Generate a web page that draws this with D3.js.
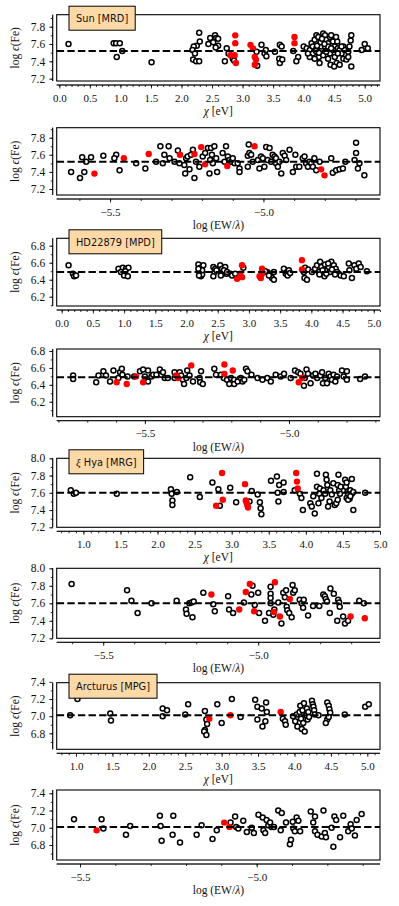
<!DOCTYPE html>
<html>
<head>
<meta charset="utf-8">
<script src="https://cdn.jsdelivr.net/npm/d3@7"></script>
<style>
  body { margin: 0; background: #fff; }
  svg { display: block; }
  text { font-family: "Liberation Serif", "DejaVu Serif", serif; fill: #111; }
  .lab text { font-family: "DejaVu Sans", sans-serif; }
</style>
</head>
<body>
<div id="chart"></div>
<script>
// ===================== DATA =====================
// Sun [MRD]
const sunMean = 7.52;
const sunChi = [[0.15,7.60],[0.89,7.61],[0.93,7.61],[0.99,7.61],[0.94,7.45],[1.03,7.52],[1.51,7.39],
  [2.29,7.73],[2.25,7.58],[2.20,7.57],[2.18,7.53],[2.19,7.42],[2.24,7.40],[2.29,7.40],[2.22,7.49],[2.30,7.63],
  [2.44,7.60],[2.47,7.67],[2.55,7.70],[2.57,7.67],[2.60,7.58],[2.52,7.62],[2.60,7.66],[2.56,7.56],
  [2.74,7.55],[2.77,7.49],[2.71,7.40],[2.84,7.43],[2.86,7.41],
  [3.31,7.59],[3.23,7.51],[3.36,7.49],[3.39,7.46],[3.38,7.53],[3.24,7.35],
  [3.53,7.51],[3.61,7.59],[3.64,7.57],[3.60,7.43],[3.61,7.38],[3.65,7.42],
  [3.83,7.52],[3.91,7.45],[3.88,7.40],
  [4.00,7.57],[4.05,7.55],[4.10,7.53],[4.13,7.61],[4.15,7.49],[4.18,7.65],[4.21,7.70],[4.24,7.68],[4.26,7.59],
  [4.29,7.53],[4.25,7.45],[4.32,7.72],[4.35,7.70],[4.37,7.65],[4.40,7.61],[4.43,7.68],[4.45,7.70],[4.48,7.63],
  [4.51,7.57],[4.43,7.49],[4.40,7.43],[4.51,7.45],[4.54,7.38],[4.59,7.36],[4.56,7.55],[4.59,7.53],[4.62,7.49],
  [4.65,7.57],[4.67,7.53],[4.65,7.43],[4.70,7.42],[4.26,7.38],[4.18,7.43],[4.10,7.45],[4.07,7.49],[4.32,7.47],
  [4.37,7.51],[4.48,7.53],[4.55,7.63],[4.15,7.57],[4.21,7.55],[4.29,7.57],[4.35,7.57],[4.40,7.57],[4.45,7.55],
  [4.53,7.68],[4.56,7.49],[4.62,7.57],[4.20,7.52],[4.22,7.58],[4.25,7.50],[4.28,7.62],[4.30,7.66],[4.34,7.60],
  [4.44,7.36],[4.50,7.34],
  [4.73,7.45],[4.75,7.57],[4.77,7.64],[4.78,7.70],[4.78,7.34],[4.73,7.51],
  [4.95,7.53],[5.00,7.60],[5.05,7.55]];
const sunChiRed = [[2.80,7.47],[2.88,7.70],[2.88,7.61],[2.87,7.47],[2.89,7.38],
  [3.13,7.59],[3.17,7.55],[3.20,7.45],[3.22,7.42],[3.20,7.36],[3.85,7.68],[3.85,7.61]];
const sunEw = [[-5.627,7.40],[-5.598,7.33],[-5.584,7.40],[-5.591,7.57],[-5.578,7.52],[-5.562,7.57],[-5.522,7.59],
  [-5.480,7.60],[-5.486,7.56],[-5.469,7.42],[-5.415,7.50],[-5.385,7.44],[-5.336,7.70],[-5.309,7.70],[-5.323,7.60],
  [-5.306,7.56],[-5.350,7.52],[-5.328,7.50],[-5.290,7.52],[-5.279,7.65],[-5.274,7.50],[-5.258,7.48],[-5.255,7.38],
  [-5.252,7.56],[-5.247,7.58],[-5.236,7.60],[-5.230,7.66],[-5.241,7.43],[-5.225,7.33],[-5.220,7.52],[-5.209,7.46],
  [-5.198,7.58],[-5.190,7.62],[-5.181,7.68],[-5.171,7.68],[-5.160,7.70],[-5.168,7.60],[-5.174,7.54],[-5.165,7.50],
  [-5.154,7.56],[-5.176,7.38],[-5.151,7.40],[-5.133,7.62],[-5.122,7.70],[-5.127,7.52],[-5.116,7.58],[-5.111,7.54],
  [-5.105,7.52],[-5.100,7.56],[-5.094,7.50],[-5.084,7.50],[-5.078,7.44],[-5.078,7.40],[-5.051,7.59],[-5.046,7.62],
  [-5.040,7.60],[-5.048,7.72],[-5.035,7.52],[-5.051,7.46],[-5.018,7.54],[-5.013,7.44],[-5.008,7.58],[-5.002,7.56],
  [-4.997,7.46],[-4.991,7.69],[-4.980,7.68],[-4.986,7.54],[-4.975,7.52],[-4.970,7.60],[-4.964,7.58],[-4.959,7.56],
  [-4.959,7.50],[-4.953,7.46],[-4.948,7.52],[-4.942,7.38],[-4.937,7.62],[-4.931,7.59],[-4.926,7.54],[-4.915,7.66],
  [-4.904,7.40],[-4.896,7.60],[-4.893,7.46],[-4.883,7.46],[-4.872,7.56],[-4.866,7.58],[-4.861,7.50],[-4.855,7.46],
  [-4.850,7.52],[-4.844,7.50],[-4.839,7.46],[-4.834,7.56],[-4.828,7.42],[-4.817,7.52],[-4.779,7.56],[-4.774,7.39],
  [-4.763,7.42],[-4.752,7.43],[-4.741,7.44],[-4.733,7.52],[-4.703,7.54],[-4.698,7.74],[-4.698,7.62],[-4.692,7.44],
  [-4.687,7.50],[-4.671,7.36]];
const sunEwRed = [[-5.551,7.38],[-5.455,7.56],[-5.374,7.61],[-5.272,7.60],[-5.225,7.61],[-5.203,7.69],
  [-5.190,7.49],[-5.118,7.47],[-5.029,7.70],[-4.812,7.43],[-4.801,7.36]];

// HD22879 [MPD]
const hdMean = 6.49;
const hdChi = [[0.11,6.57],[0.18,6.47],[0.20,6.44],[0.23,6.45],
  [0.91,6.53],[0.98,6.54],[1.03,6.53],[1.07,6.54],[0.95,6.49],[1.00,6.45],[1.06,6.44],[1.02,6.50],
  [2.19,6.58],[2.22,6.54],[2.21,6.49],[2.23,6.44],[2.25,6.46],[2.27,6.57],[2.25,6.51],[2.19,6.53],[2.20,6.45],
  [2.43,6.55],[2.45,6.49],[2.43,6.44],[2.46,6.53],[2.48,6.51],
  [2.54,6.57],[2.57,6.53],[2.58,6.47],[2.55,6.45],[2.62,6.55],[2.64,6.47],[2.60,6.51],
  [2.70,6.47],[2.73,6.45],[2.78,6.47],[2.65,6.49],[2.91,6.54],
  [3.29,6.49],[3.34,6.47],[3.37,6.42],[3.40,6.40],[3.32,6.45],[3.40,6.49],[3.26,6.50],
  [3.56,6.53],[3.59,6.47],[3.61,6.49],[3.62,6.45],[3.64,6.51],[3.66,6.48],
  [3.90,6.54],[3.89,6.42],[3.93,6.40],[3.88,6.49],[3.95,6.52],
  [4.01,6.49],[4.06,6.53],[4.09,6.57],[4.12,6.49],[4.14,6.61],[4.16,6.55],[4.19,6.47],[4.21,6.44],[4.22,6.58],
  [4.25,6.51],[4.28,6.55],[4.30,6.49],[4.32,6.61],[4.36,6.57],[4.39,6.53],[4.41,6.49],[4.44,6.47],[4.47,6.45],
  [4.52,6.44],[4.60,6.59],[4.61,6.51],[4.65,6.42],[4.69,6.57],[4.72,6.53],[4.76,6.59],[4.79,6.55],
  [4.18,6.51],[4.24,6.47],[4.33,6.52],[4.38,6.46],[4.13,6.46],[4.27,6.59],[4.89,6.50]];
const hdChiRed = [[2.81,6.41],[2.86,6.47],[2.89,6.43],[2.89,6.57],[3.17,6.44],[3.21,6.53],[3.21,6.47],
  [3.19,6.42],[3.85,6.63],[3.85,6.52]];
const hdEw = [[-5.749,6.51],[-5.749,6.47],[-5.669,6.43],[-5.661,6.51],[-5.644,6.56],[-5.635,6.51],[-5.621,6.44],
  [-5.609,6.57],[-5.592,6.48],[-5.586,6.55],[-5.580,6.59],[-5.578,6.52],[-5.560,6.50],[-5.537,6.50],[-5.517,6.56],
  [-5.506,6.58],[-5.500,6.50],[-5.489,6.57],[-5.489,6.44],[-5.477,6.50],[-5.471,6.52],[-5.460,6.52],[-5.448,6.58],
  [-5.443,6.52],[-5.437,6.55],[-5.431,6.48],[-5.420,6.48],[-5.397,6.55],[-5.397,6.48],[-5.379,6.55],[-5.374,6.51],
  [-5.368,6.46],[-5.364,6.41],[-5.356,6.48],[-5.353,6.57],[-5.345,6.51],[-5.333,6.44],[-5.310,6.48],[-5.305,6.56],
  [-5.308,6.43],[-5.299,6.41],[-5.259,6.59],[-5.253,6.52],[-5.236,6.52],[-5.226,6.48],[-5.215,6.46],[-5.207,6.41],
  [-5.201,6.48],[-5.190,6.46],[-5.190,6.41],[-5.178,6.44],[-5.167,6.48],[-5.161,6.44],[-5.155,6.46],[-5.149,6.59],
  [-5.144,6.56],[-5.130,6.52],[-5.109,6.48],[-5.092,6.46],[-5.075,6.48],[-5.063,6.44],[-5.046,6.52],[-5.029,6.50],
  [-5.017,6.53],[-4.994,6.48],[-4.979,6.57],[-4.968,6.55],[-4.960,6.53],[-4.948,6.39],[-4.945,6.48],[-4.939,6.58],
  [-4.934,6.53],[-4.925,6.42],[-4.916,6.51],[-4.908,6.53],[-4.902,6.48],[-4.891,6.51],[-4.885,6.55],[-4.882,6.42],
  [-4.874,6.48],[-4.868,6.42],[-4.862,6.53],[-4.856,6.50],[-4.851,6.46],[-4.845,6.52],[-4.839,6.44],[-4.833,6.50],
  [-4.816,6.57],[-4.810,6.50],[-4.799,6.56],[-4.799,6.46],[-4.753,6.47],[-4.736,6.50]];
const hdEwRed = [[-5.598,6.43],[-5.563,6.41],[-5.531,6.50],[-5.506,6.43],[-5.391,6.51],[-5.385,6.48],
  [-5.339,6.63],[-5.224,6.64],[-5.224,6.53],[-5.195,6.57],[-4.966,6.43],[-4.954,6.48]];

// xi Hya [MRG]
const xiMean = 7.60;
const xiChi = [[0.83,7.63],[0.87,7.59],[0.90,7.60],[1.45,7.59],
  [2.18,7.64],[2.19,7.59],[2.20,7.51],[2.20,7.46],[2.26,7.61],[2.44,7.78],[2.57,7.55],
  [2.74,7.72],[2.82,7.64],[2.84,7.45],[2.98,7.66],[3.06,7.49],
  [3.27,7.62],[3.24,7.50],[3.35,7.58],[3.38,7.49],[3.39,7.42],[3.40,7.35],
  [3.53,7.74],[3.61,7.79],[3.64,7.69],[3.62,7.60],[3.63,7.50],[3.70,7.72],[3.70,7.61],
  [3.85,7.63],[3.92,7.59],[3.94,7.54],[3.96,7.40],
  [4.06,7.48],[4.08,7.44],[4.10,7.56],[4.12,7.36],[4.15,7.82],[4.15,7.67],[4.17,7.48],[4.18,7.59],[4.19,7.65],
  [4.21,7.54],[4.24,7.63],[4.26,7.59],[4.27,7.81],[4.28,7.75],[4.29,7.69],[4.30,7.44],[4.32,7.50],[4.33,7.63],
  [4.35,7.58],[4.37,7.71],[4.39,7.46],[4.41,7.48],[4.43,7.52],[4.43,7.69],[4.44,7.81],[4.45,7.63],[4.46,7.59],
  [4.47,7.67],[4.53,7.75],[4.54,7.67],[4.55,7.54],[4.56,7.61],[4.57,7.59],[4.59,7.53],[4.60,7.63],[4.62,7.59],
  [4.64,7.61],[4.62,7.76],[4.64,7.40],[4.57,7.52],[4.55,7.72],[4.60,7.56],[4.80,7.60]];
const xiChiRed = [[2.79,7.45],[2.87,7.83],[2.88,7.52],[3.18,7.70],[3.19,7.51],[3.20,7.49],[3.21,7.46],
  [3.22,7.43],[3.87,7.83],[3.88,7.73],[3.89,7.65]];
const xiEw = [[-5.602,7.82],[-5.423,7.75],[-5.409,7.63],[-5.389,7.49],[-5.344,7.60],[-5.263,7.63],[-5.233,7.53],
  [-5.231,7.48],[-5.222,7.60],[-5.215,7.61],[-5.212,7.44],[-5.208,7.62],[-5.177,7.72],[-5.145,7.59],[-5.140,7.51],
  [-5.097,7.68],[-5.094,7.53],[-5.081,7.49],[-5.046,7.61],[-5.018,7.80],[-5.022,7.70],[-5.011,7.58],[-5.000,7.72],
  [-4.997,7.49],[-4.978,7.40],[-4.960,7.79],[-4.960,7.71],[-4.960,7.66],[-4.960,7.60],[-4.965,7.49],[-4.951,7.47],
  [-4.948,7.53],[-4.935,7.61],[-4.925,7.37],[-4.919,7.72],[-4.914,7.67],[-4.910,7.75],[-4.908,7.56],[-4.906,7.52],
  [-4.900,7.49],[-4.892,7.44],[-4.889,7.81],[-4.887,7.72],[-4.882,7.75],[-4.866,7.64],[-4.860,7.60],[-4.855,7.55],
  [-4.853,7.64],[-4.839,7.46],[-4.823,7.57],[-4.803,7.57],[-4.790,7.70],[-4.785,7.68],[-4.782,7.65],[-4.778,7.62],
  [-4.769,7.49],[-4.767,7.77],[-4.756,7.71],[-4.745,7.40],[-4.742,7.64],[-4.739,7.61],[-4.737,7.56],[-4.726,7.45],
  [-4.720,7.37],[-4.710,7.40],[-4.674,7.63],[-4.659,7.60]];
const xiEwRed = [[-5.151,7.70],[-5.061,7.53],[-5.040,7.73],[-5.027,7.82],[-5.013,7.51],[-4.946,7.84],
  [-4.949,7.50],[-4.930,7.45],[-4.898,7.65],[-4.702,7.45],[-4.656,7.43]];

// Arcturus [MPG]
const arcMean = 7.01;
const arcChi = [[0.92,7.01],[1.02,7.20],[1.47,7.03],[1.48,6.95],[2.19,7.09],[2.25,7.07],[2.19,7.00],[2.50,7.02],
  [2.54,7.14],[2.77,7.06],[2.79,6.96],[2.80,6.91],[2.77,6.84],[2.76,6.82],[2.79,6.78],[2.94,7.14],[3.00,6.92],
  [3.14,7.20],[3.26,6.99],[3.46,7.19],[3.49,7.11],[3.55,7.09],[3.61,7.16],[3.60,6.94],[3.56,6.88],[3.49,6.96],
  [3.62,7.05],[3.84,6.97],[3.87,6.94],[3.88,6.90],
  [3.98,7.00],[4.01,6.94],[4.03,7.02],[4.04,6.88],[4.07,7.05],[4.08,7.12],[4.09,6.97],[4.10,6.85],[4.11,7.07],
  [4.12,6.92],[4.13,7.15],[4.14,6.82],[4.16,7.01],[4.17,7.09],[4.18,6.96],[4.19,7.05],[4.20,6.99],[4.24,7.18],
  [4.25,7.14],[4.26,7.11],[4.27,7.07],[4.28,7.02],[4.33,7.01],
  [4.45,7.16],[4.47,7.12],[4.48,7.08],[4.49,7.04],[4.45,6.96],[4.43,6.92],[4.47,6.99],
  [4.69,7.02],[4.97,7.11],[5.02,7.14]];
const arcChiRed = [[2.83,6.97],[3.12,7.01],[3.81,7.05]];
const arcEw = [[-5.517,7.10],[-5.439,7.10],[-5.434,6.99],[-5.370,6.92],[-5.358,7.02],[-5.274,7.14],[-5.272,7.02],
  [-5.269,6.85],[-5.236,7.14],[-5.238,6.92],[-5.217,6.83],[-5.170,6.92],[-5.156,7.03],[-5.125,6.87],[-5.113,6.97],
  [-5.074,7.06],[-5.061,7.13],[-5.058,7.01],[-5.052,6.99],[-5.038,7.08],[-5.028,6.95],[-5.014,7.00],[-5.008,6.94],
  [-4.995,7.15],[-4.983,7.12],[-4.981,6.97],[-4.976,6.94],[-4.972,7.09],[-4.967,7.03],[-4.962,7.06],[-4.958,7.01],
  [-4.951,7.01],[-4.939,7.20],[-4.929,7.17],[-4.932,6.97],[-4.917,7.06],[-4.906,6.81],[-4.903,6.86],[-4.898,7.07],
  [-4.896,6.99],[-4.892,6.96],[-4.887,7.12],[-4.882,7.08],[-4.877,6.96],[-4.847,7.19],[-4.840,7.06],[-4.835,7.13],
  [-4.835,6.96],[-4.828,6.92],[-4.816,6.90],[-4.811,7.20],[-4.807,6.94],[-4.804,6.89],[-4.788,7.00],[-4.783,6.78],
  [-4.780,7.13],[-4.775,7.09],[-4.764,6.89],[-4.755,7.14],[-4.741,6.96],[-4.734,7.04],[-4.731,6.99],[-4.722,6.91],
  [-4.717,7.09],[-4.703,7.16]];
const arcEwRed = [[-5.453,6.97],[-5.092,7.06],[-5.077,7.01]];

// tick labels
const chiTicksA = [0, 0.5, 1, 1.5, 2, 2.5, 3, 3.5, 4, 4.5, 5];
const chiTicksB = [1, 1.5, 2, 2.5, 3, 3.5, 4, 4.5, 5];
const ewTicks = [-5.5, -5.0];
const sunYTicks = [7.2, 7.4, 7.6, 7.8];
const hdYTicks = [6.2, 6.4, 6.6, 6.8];
const xiYTicks = [7.2, 7.4, 7.6, 7.8, 8.0];
const arcYTicks = [6.8, 7.0, 7.2, 7.4];

// ===================== LAYOUT =====================
const panels = [
  { label: "Sun [MRD]", pts: sunChi, red: sunChiRed, mean: sunMean, xDom: [-0.043, 5.25], yDom: [7.173, 7.938], top: 14.7, bottom: 81, xt: chiTicksA, yt: sunYTicks, kind: "chi" },
  { pts: sunEw, red: sunEwRed, mean: sunMean, xDom: [-5.674, -4.62], yDom: [7.13, 7.917], top: 127.7, bottom: 195, xt: ewTicks, yt: sunYTicks, kind: "ew" },
  { label: "HD22879 [MPD]", pts: hdChi, red: hdChiRed, mean: hdMean, xDom: [-0.08, 5.1], yDom: [6.091, 6.887], top: 238.3, bottom: 306, xt: chiTicksA, yt: hdYTicks, kind: "chi" },
  { pts: hdEw, red: hdEwRed, mean: hdMean, xDom: [-5.806, -4.684], yDom: [6.023, 6.824], top: 349, bottom: 416.7, xt: ewTicks, yt: hdYTicks, kind: "ew" },
  { label: "xi", pts: xiChi, red: xiChiRed, mean: xiMean, xDom: [0.64, 5.0], yDom: [7.2, 8.0], top: 458.3, bottom: 527.3, xt: chiTicksB, yt: xiYTicks, kind: "chi" },
  { pts: xiEw, red: xiEwRed, mean: xiMean, xDom: [-5.65, -4.607], yDom: [7.2, 8.0], top: 568.3, bottom: 638.3, xt: ewTicks, yt: xiYTicks, kind: "ew" },
  { label: "Arcturus [MPG]", pts: arcChi, red: arcChiRed, mean: arcMean, xDom: [0.735, 5.174], yDom: [6.614, 7.39], top: 682.7, bottom: 749.3, xt: chiTicksB, yt: arcYTicks, kind: "chi" },
  { pts: arcEw, red: arcEwRed, mean: arcMean, xDom: [-5.566, -4.651], yDom: [6.626, 7.438], top: 790, bottom: 860, xt: ewTicks, yt: arcYTicks, kind: "ew" }
];

const W = 399, H = 906;
const left = 56.7, right = 380, off = 4;
const svg = d3.select("#chart").append("svg").attr("width", W).attr("height", H);
const fmt = d3.format(".1f");

function minorTicks(dom) {
  const lo = Math.ceil(Math.min(...dom) * 10 - 1e-6), hi = Math.floor(Math.max(...dom) * 10 + 1e-6);
  return d3.range(lo, hi + 1).map(v => v / 10);
}

panels.forEach(p => {
  const x = d3.scaleLinear().domain(p.xDom).range([left, right]);
  const y = d3.scaleLinear().domain(p.yDom).range([p.bottom, p.top]);
  const g = svg.append("g");

  // offset axes: minor then major
  const gx = g.append("g").attr("transform", `translate(0,${p.bottom + off})`);
  gx.append("g").call(d3.axisBottom(x).tickValues(minorTicks(p.xDom)).tickSize(2).tickFormat(""));
  gx.append("g").call(d3.axisBottom(x).tickValues(p.xt).tickSize(3.5).tickFormat(fmt));
  gx.selectAll(".domain").attr("stroke-width", 0.8).attr("d", `M${left},0H${right}`);
  gx.selectAll("line").attr("stroke-width", 0.8);
  gx.selectAll("text").attr("font-size", 11).attr("y", 16.5).attr("dy", 0)
    .attr("font-family", '"Liberation Serif", serif').attr("fill", "#111");

  const gy = g.append("g").attr("transform", `translate(${left - off},0)`);
  gy.append("g").call(d3.axisLeft(y).tickValues(minorTicks(p.yDom)).tickSize(2).tickFormat(""));
  gy.append("g").call(d3.axisLeft(y).tickValues(p.yt).tickSize(3.5).tickFormat(fmt));
  gy.selectAll(".domain").attr("stroke-width", 0.8).attr("d", `M0,${p.top}V${p.bottom}`);
  gy.selectAll("line").attr("stroke-width", 0.8);
  gy.selectAll("text").attr("font-size", 11.5).attr("x", -7.5)
    .attr("font-family", '"Liberation Serif", serif').attr("fill", "#111");

  // frame
  g.append("rect").attr("x", left).attr("y", p.top).attr("width", right - left).attr("height", p.bottom - p.top)
    .attr("fill", "none").attr("stroke", "#000").attr("stroke-width", 1.1);

  // points
  g.append("g").selectAll("circle").data(p.pts).join("circle")
    .attr("cx", d => x(d[0])).attr("cy", d => y(d[1])).attr("r", 2.5)
    .attr("fill", "#fff").attr("stroke", "#000").attr("stroke-width", 1.5);
  g.append("g").selectAll("circle").data(p.red).join("circle")
    .attr("cx", d => x(d[0])).attr("cy", d => y(d[1])).attr("r", 3.2)
    .attr("fill", "#ff0000");

  // mean line
  g.append("line").attr("x1", left).attr("x2", right).attr("y1", y(p.mean)).attr("y2", y(p.mean))
    .attr("stroke", "#000").attr("stroke-width", 2).attr("stroke-dasharray", "7.4,3.2");

  // axis titles
  const cx = (left + right) / 2, cy = (p.top + p.bottom) / 2;
  const yl = g.append("text").attr("transform", `translate(19,${cy}) rotate(-90)`)
    .attr("text-anchor", "middle").attr("font-size", 11.5);
  yl.append("tspan").text("log ");
  yl.append("tspan").attr("font-style", "italic").text("ϵ");
  yl.append("tspan").text("(Fe)");

  const xl = g.append("text").attr("x", cx).attr("y", p.bottom + 34).attr("text-anchor", "middle").attr("font-size", 11.5);
  if (p.kind === "chi") {
    xl.append("tspan").attr("font-style", "italic").text("χ");
    xl.append("tspan").text(" [eV]");
  } else {
    xl.append("tspan").text("log (EW/");
    xl.append("tspan").attr("font-style", "italic").text("λ");
    xl.append("tspan").text(")");
  }

  // label box
  if (p.label) {
    const lg = g.append("g").attr("class", "lab");
    const rect = lg.append("rect");
    const t = lg.append("text").attr("x", 76).attr("y", p.top + 7.5).attr("font-size", 9.8).attr("fill", "#111");
    if (p.label === "xi") {
      t.append("tspan").attr("font-family", '"Liberation Serif", serif').attr("font-style", "italic").attr("font-size", 11).text("ξ");
      t.append("tspan").text(" Hya [MRG]");
    } else {
      t.text(p.label);
    }
    const w = t.node().getComputedTextLength();
    rect.attr("x", 69).attr("y", p.top - 8.5).attr("width", w + 14).attr("height", 24)
      .attr("fill", "#fdd9a8").attr("stroke", "#000").attr("stroke-width", 1);
  }
});
</script>
</body>
</html>
